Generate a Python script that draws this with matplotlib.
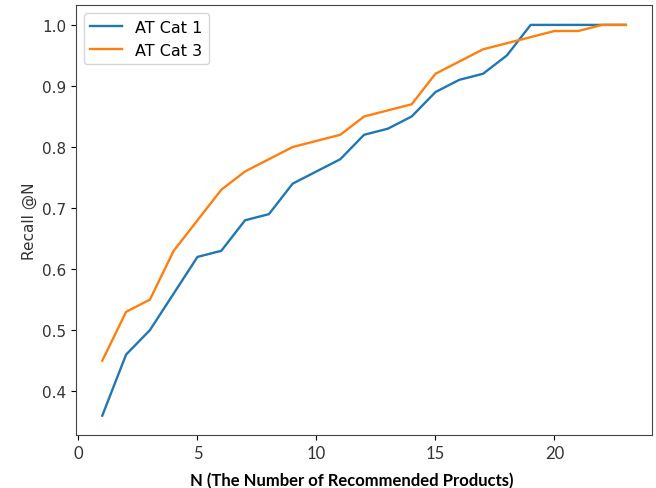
import matplotlib
matplotlib.use('Agg')
import matplotlib.pyplot as plt

n_values = list(range(1, 24))
recall_cat1 = [0.36, 0.46, 0.50, 0.56, 0.62, 0.63, 0.68, 0.69, 0.74, 0.76, 0.78, 0.82,
               0.83, 0.85, 0.89, 0.91, 0.92, 0.95, 1.00, 1.00, 1.00, 1.00, 1.00]
recall_cat3 = [0.45, 0.53, 0.55, 0.63, 0.68, 0.73, 0.76, 0.78, 0.80, 0.81, 0.82, 0.85,
               0.86, 0.87, 0.92, 0.94, 0.96, 0.97, 0.98, 0.99, 0.99, 1.00, 1.00]
labels = ['AT Cat 1', 'AT Cat 3']

fig = plt.figure(figsize=(6.56, 4.89), dpi=100)
ax = fig.add_axes([0.116, 0.108, 0.878, 0.879])

ax.plot(n_values, recall_cat1, c='#1f77b4', lw=1.7, label=labels[0])
ax.plot(n_values, recall_cat3, c='#ff7f0e', lw=1.7, label=labels[1])

ax.set_ylabel('Recall @N', fontsize=11, color='#333333')
ax.set_xlabel('N (The Number of Recommended Products)', fontsize=12,
              fontweight='bold', family='Lato')
ax.xaxis.set_label_coords(0.479, -0.085)
ax.tick_params(axis='y', labelsize=11, labelcolor='#333333')
ax.tick_params(axis='x', labelsize=12, labelcolor='#333333')
for t in ax.get_xticklabels():
    t.set_family('Lato')
for s in ax.spines.values():
    s.set_color('#444444')

ax.legend(loc='upper left', fontsize=11.5)
fig.savefig('out.png', dpi=100)
